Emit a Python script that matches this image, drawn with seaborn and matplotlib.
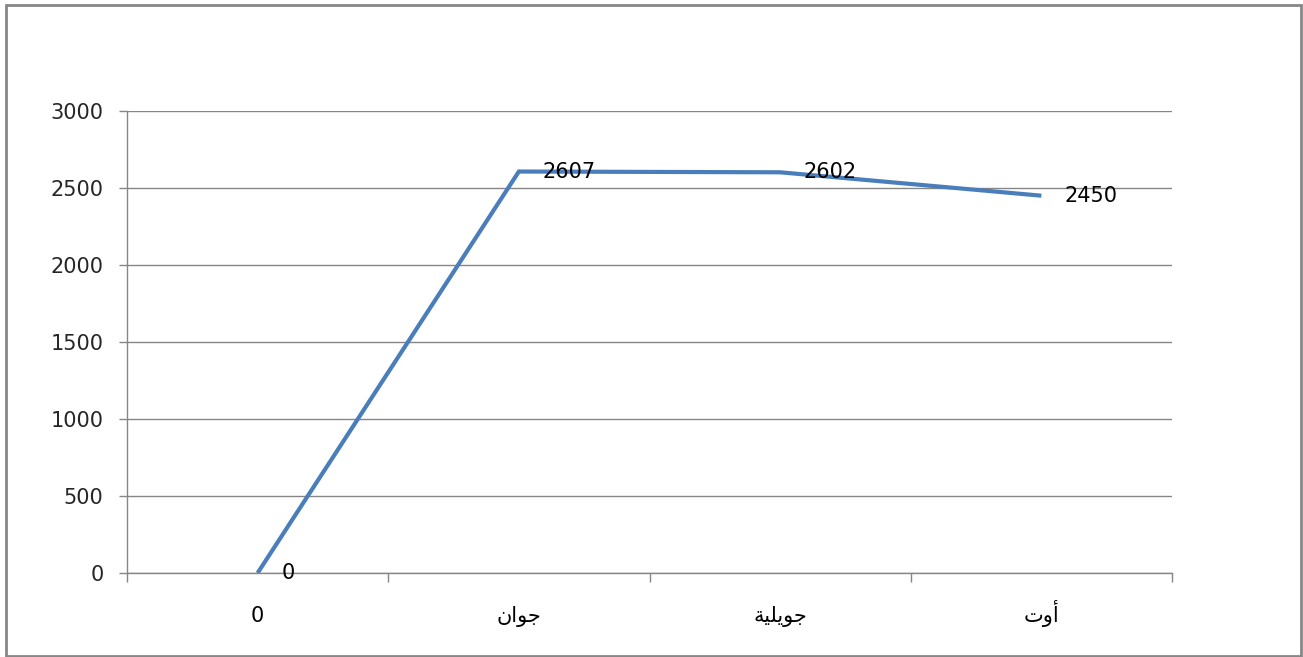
import numpy as np
import pandas as pd
import matplotlib
matplotlib.use("Agg")
import matplotlib.pyplot as plt
from matplotlib.patches import Rectangle
from matplotlib.ticker import FixedLocator, MultipleLocator
import seaborn as sns

# Monthly totals
months = ["0", "جوان", "جويلية", "أوت"]
totals = [0, 2607, 2602, 2450]
y_ticks = [0, 500, 1000, 1500, 2000, 2500, 3000]

# Minimal Arabic shaping (presentation forms + visual order) for the month names,
# since matplotlib lays text out left-to-right without contextual joining.
_FORMS = {
    "\u062C": ("\uFE9D", "\uFE9E", "\uFE9F", "\uFEA0"),  # jeem
    "\u0648": ("\uFEED", "\uFEEE", None, None),          # waw
    "\u0627": ("\uFE8D", "\uFE8E", None, None),          # alef
    "\u0623": ("\uFE83", "\uFE84", None, None),          # alef with hamza
    "\u0646": ("\uFEE5", "\uFEE6", "\uFEE7", "\uFEE8"),  # noon
    "\u064A": ("\uFEF1", "\uFEF2", "\uFEF3", "\uFEF4"),  # yeh
    "\u0644": ("\uFEDD", "\uFEDE", "\uFEDF", "\uFEE0"),  # lam
    "\u0629": ("\uFE93", "\uFE94", None, None),          # teh marbuta
    "\u062A": ("\uFE95", "\uFE96", "\uFE97", "\uFE98"),  # teh
}


def _dual(ch):
    f = _FORMS.get(ch)
    return f is not None and f[2] is not None


def shape(text):
    if not any(c in _FORMS for c in text):
        return text
    out = []
    for i, c in enumerate(text):
        f = _FORMS.get(c)
        if f is None:
            out.append(c)
            continue
        prev_joins = i > 0 and _dual(text[i - 1])
        next_joins = _dual(c) and i + 1 < len(text) and text[i + 1] in _FORMS
        if prev_joins and next_joins:
            out.append(f[3])
        elif prev_joins:
            out.append(f[1])
        elif next_joins:
            out.append(f[2])
        else:
            out.append(f[0])
    return "".join(reversed(out))


sns.set_theme(style="white")
plt.rcParams["font.family"] = ["DejaVu Sans"]

W, H = 1303, 657
fig = plt.figure(figsize=(W / 100, H / 100), dpi=100)
ax = fig.add_axes([127 / W, (H - 573) / H, (1172 - 127) / W, (573 - 111) / H])

df = pd.DataFrame({"pos": np.arange(len(months)), "total": totals})
sns.lineplot(data=df, x="pos", y="total", ax=ax, color="#4A7EBB",
             linewidth=3.0, solid_capstyle="butt", solid_joinstyle="miter")

grid_c = "#868686"
ax.set_xlim(-0.5, len(months) - 0.5)
ax.set_ylim(0, 3000)
ax.yaxis.set_major_locator(FixedLocator(y_ticks))
ax.set_yticklabels([str(v) for v in y_ticks])
ax.grid(axis="y", color=grid_c, linewidth=1.0)
ax.set_axisbelow(True)

ax.set_xticks(df["pos"])
ax.set_xticklabels([shape(m) for m in months], va="baseline")
ax.xaxis.set_minor_locator(MultipleLocator(1, offset=0.5))
ax.tick_params(axis="x", which="major", length=0, pad=35, labelsize=15, colors="black")
ax.tick_params(axis="x", which="minor", length=6.5, width=1.0, color=grid_c, direction="out", bottom=True)
ax.tick_params(axis="y", which="major", length=6, width=1.0, color=grid_c, pad=11, labelsize=15, left=True)

for side in ("top", "right"):
    ax.spines[side].set_visible(False)
for side in ("left", "bottom"):
    ax.spines[side].set_color(grid_c)
    ax.spines[side].set_linewidth(1.0)
ax.set_xlabel("")
ax.set_ylabel("")

for x, v in zip(df["pos"], totals):
    ax.annotate(str(v), (x, v), xytext=(17, 0), textcoords="offset points",
                ha="left", va="center", fontsize=15, color="black")

# Grey frame around the whole chart area
fig.patches.append(Rectangle((6 / W, 1 / H), (1301 - 6) / W, 651 / H,
                             transform=fig.transFigure, fill=False,
                             edgecolor="#878787", linewidth=2.0))

fig.savefig("out.png", dpi=100, facecolor="white")
